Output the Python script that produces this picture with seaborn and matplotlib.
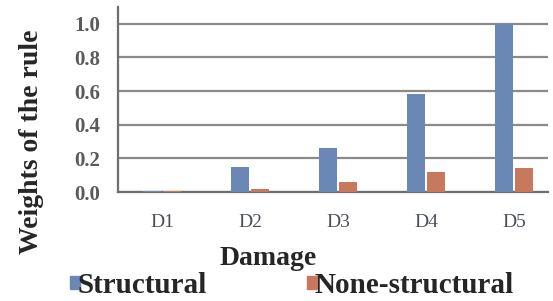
import pandas as pd
import matplotlib.pyplot as plt
import seaborn as sns
from matplotlib.patches import Patch

# values
damage = ["D1", "D2", "D3", "D4", "D5"]
structural = [0.004, 0.15, 0.26, 0.58, 1.0]
none_structural = [0.004, 0.02, 0.06, 0.12, 0.145]
series = ["Structural", "None-structural"]
colors = ["#6a87b5", "#c8785c"]
yticks = [0.0, 0.2, 0.4, 0.6, 0.8, 1.0]

df = pd.DataFrame({
    "Damage": damage * 2,
    "Weight": structural + none_structural,
    "Type": [series[0]] * len(damage) + [series[1]] * len(damage),
})

sns.set_style("white")
plt.rcParams["font.family"] = ["Liberation Serif", "DejaVu Serif"]

fig = plt.figure(figsize=(5.53, 3.01), dpi=100)
W, H = 553, 301
# keep the axes a little inside the figure, otherwise the lines get clipped away
AW = 430
ax = fig.add_axes([118 / W, 1 - 192 / H, AW / W, 185 / H])

sns.barplot(data=df, x="Damage", y="Weight", hue="Type", palette=colors,
            width=0.44, gap=0.07, ax=ax, legend=False, linewidth=0,
            saturation=1, zorder=3)

ax.set_xlim(-0.5, 4.386)
ax.set_ylim(0, 1.1)

# horizontal gridlines behind the bars
for yv in yticks:
    ax.axhline(yv, color="#8a8a8a", linewidth=1.6, zorder=1)

ax.set_yticks(yticks)
ax.set_yticklabels([f"{v:.1f}" for v in yticks], fontsize=15,
                   fontweight="bold", color="#5a5a5a")
ax.tick_params(axis="y", length=6, width=1.5, color="#6f6f6f", pad=7)
ax.set_xticks(range(len(damage)))
ax.set_xticklabels(damage, fontsize=14, color="#4a4e5a")
ax.tick_params(axis="x", length=0, pad=16)
ax.set_xticks([0.5, 1.5, 2.5, 3.5], minor=True)
ax.tick_params(axis="x", which="minor", length=5, width=1.5,
               color="#6f6f6f", direction="out")

for s in ["top", "right"]:
    ax.spines[s].set_visible(False)
for s in ["left", "bottom"]:
    ax.spines[s].set_color("#6f6f6f")
    ax.spines[s].set_linewidth(1.6)

ax.set_xlabel("Damage", fontsize=20, fontweight="bold")
ax.xaxis.set_label_coords((268 - 118) / AW, -(246 - 192) / 185)
ax.set_ylabel("Weights of the rule", fontsize=20, fontweight="bold")
ax.yaxis.set_label_coords(-(118 - 44) / AW, (192 - 142) / 185)

handles = [Patch(color=c, label=l) for c, l in zip(colors, series)]
fig.legend(handles=handles, loc="lower left", bbox_to_anchor=(70 / W, 1 - 299 / H),
           ncol=2, frameon=False, prop={"size": 21, "weight": "bold"},
           handlelength=0.35, handleheight=0.35, handletextpad=-0.1,
           columnspacing=3.45, borderpad=0, borderaxespad=0)

fig.savefig("out.png", dpi=100)
